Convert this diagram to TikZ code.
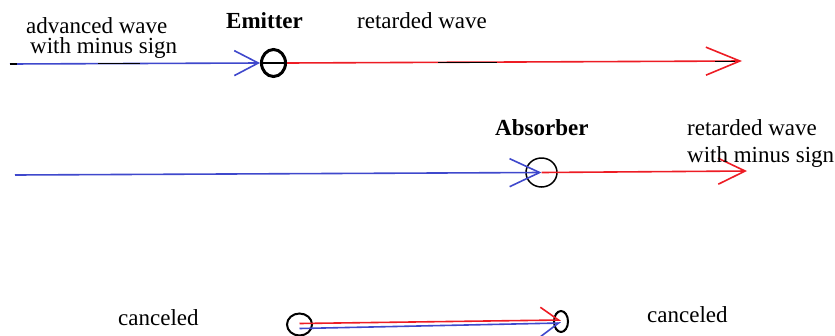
\documentclass[tikz,border=0pt]{standalone}
\usepackage{fontspec}
\setmainfont{Liberation Serif}
\usepackage{tikz}
\usetikzlibrary{arrows.meta,shapes.geometric}
\definecolor{penblue}{HTML}{3F48CC}
\definecolor{penred}{HTML}{ED1C24}

\begin{document}
\begin{tikzpicture}[
    x=1pt, y=-1pt,
    lbl/.style={inner sep=0pt, anchor=base west, font=\fontsize{23}{18}\selectfont},
    twoline/.style={inner sep=0pt, anchor=base west, align=left, font=\fontsize{23}{#1}\selectfont},
    boldlbl/.style={lbl, font=\fontsize{23}{18}\selectfont\bfseries},
    ring/.style={draw=black, ellipse, inner sep=0pt},
    pen/.style={draw=black, line width=1.4pt},
    bluewave/.style={draw=penblue, line width=1.6pt},
    redwave/.style={draw=penred, line width=1.6pt}
]
    \useasboundingbox (0,0) rectangle (835,335);

    \node[ring, line width=3pt, minimum width=24pt, minimum height=27pt] (emit) at (273.5,63) {};
    \node[ring, line width=1.5pt, minimum width=31pt, minimum height=29pt] (absb) at (541.5,172.5) {};
    \node[ring, line width=2pt, minimum width=25pt, minimum height=22pt] (lft) at (299.5,324.5) {};
    \node[ring, line width=2pt, minimum width=14pt, minimum height=21pt] (rgt) at (561,321.5) {};

    \coordinate (src1) at (10,64);
    \coordinate (end1) at (742,61);
    \coordinate (src2) at (15,175);
    \coordinate (end2) at (747,171);

    \draw[bluewave, -{Straight Barb[length=24pt,width=25pt]}] (src1) -- (emit.west);
    \draw[pen] (emit.west) -- (emit.east);
    \draw[redwave, -{Straight Barb[length=34pt,width=28pt]}] (emit.east) -- (end1);
    \draw[pen] (src1) -- ++(7,0);
    \draw[pen] (98,63.5) -- (140,63.5);
    \draw[pen] (438,62.5) -- (497,62.5);
    \draw[pen] (715,61.5) -- (735,61.5);

    \draw[bluewave, -{Straight Barb[length=30pt,width=28pt]}] (src2) -- (absb.center);
    \draw[redwave, -{Straight Barb[length=27pt,width=26pt]}] (absb.center) -- (end2);

    \draw[redwave, -{Straight Barb[left,length=18pt,width=26pt]}] ([yshift=1pt]lft.center) -- ([yshift=1.5pt]rgt.center);
    \draw[bluewave, -{Straight Barb[right,length=18pt,width=26pt]}] ([yshift=-4pt]lft.center) -- ([yshift=-1.5pt]rgt.center);

    \node[twoline=20] (adv) at (26,53) {advanced wave\\\hspace*{4pt}with minus sign};
    \node[boldlbl] (emitlbl) at (226,28) {Emitter};
    \node[lbl] (ret1) at (357,28) {retarded wave};
    \node[boldlbl] (abslbl) at (495,135) {Absorber};
    \node[twoline=27] (ret2) at (687,162) {retarded wave\\with minus sign};
    \node[lbl] (cnl1) at (118,325) {canceled};
    \node[lbl] (cnl2) at (647,322) {canceled};
\end{tikzpicture}
\end{document}
